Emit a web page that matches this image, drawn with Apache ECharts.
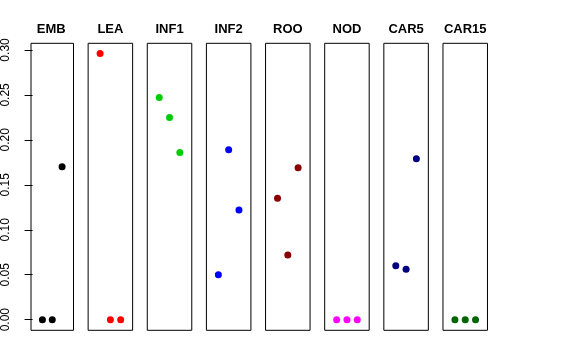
<!DOCTYPE html>
<html>
<head>
<meta charset="utf-8">
<script src="https://cdn.jsdelivr.net/npm/echarts@6/dist/echarts.min.js"></script>
<style>html,body{margin:0;padding:0;background:#fff}#c{width:576px;height:360px}</style>
</head>
<body>
<div id="c"></div>
<script>
const panels = ['EMB', 'LEA', 'INF1', 'INF2', 'ROO', 'NOD', 'CAR5', 'CAR15'];
const colors = ['#000000', '#FF0000', '#00CD00', '#0000FF', '#8B0000', '#FF00FF', '#000080', '#006400'];
const EMB = [0, 0, 0.170];
const LEA = [0.296, 0, 0];
const INF1 = [0.247, 0.225, 0.186];
const INF2 = [0.050, 0.189, 0.122];
const ROO = [0.135, 0.072, 0.169];
const NOD = [0, 0, 0];
const CAR5 = [0.060, 0.056, 0.179];
const CAR15 = [0, 0, 0];
const values = [EMB, LEA, INF1, INF2, ROO, NOD, CAR5, CAR15];
const xPositions = [1, 2, 3];
const yTicks = [0, 0.05, 0.10, 0.15, 0.20, 0.25, 0.30];

const font = 'Liberation Sans, Helvetica, Arial, sans-serif';
const gLeft0 = 29, gPitch = 59.14, gW = 44.5, gTop = 43.3, gH = 287;
const yMin = -0.0118, yMax = 0.3074;

const grids = [], xAxes = [], yAxes = [], series = [], titles = [];
panels.forEach((p, i) => {
  const l = gLeft0 + gPitch * i;
  grids.push({left: l, top: gTop, width: gW, height: gH, show: true, borderColor: '#000', borderWidth: 1, backgroundColor: 'transparent'});
  xAxes.push({gridIndex: i, type: 'value', min: -0.16, max: 4.16, show: false});
  yAxes.push({
    gridIndex: i, type: 'value', min: yMin, max: yMax, show: i === 0,
    splitLine: {show: false},
    axisLine: {show: false},
    axisTick: {show: i === 0, length: 8, lineStyle: {color: '#000'}, customValues: yTicks},
    axisLabel: {show: i === 0, rotate: 90, margin: 19, fontSize: 12, color: '#000', fontFamily: font,
      customValues: yTicks, formatter: v => v.toFixed(2)}
  });
  series.push({
    type: 'scatter', xAxisIndex: i, yAxisIndex: i, symbol: 'circle', symbolSize: 7,
    itemStyle: {color: colors[i], opacity: 1},
    data: xPositions.map((x, k) => [x, values[i][k]]),
    animation: false, silent: true
  });
  titles.push({text: p, left: l + gW / 2, top: 23, textAlign: 'center', padding: 0,
    textStyle: {fontSize: 13, fontWeight: 'bold', color: '#000', fontFamily: font}});
});

const chart = echarts.init(document.getElementById('c'), null, {renderer: 'canvas'});
chart.setOption({
  animation: false,
  title: titles,
  grid: grids,
  xAxis: xAxes,
  yAxis: yAxes,
  series: series
});
</script>
</body>
</html>
